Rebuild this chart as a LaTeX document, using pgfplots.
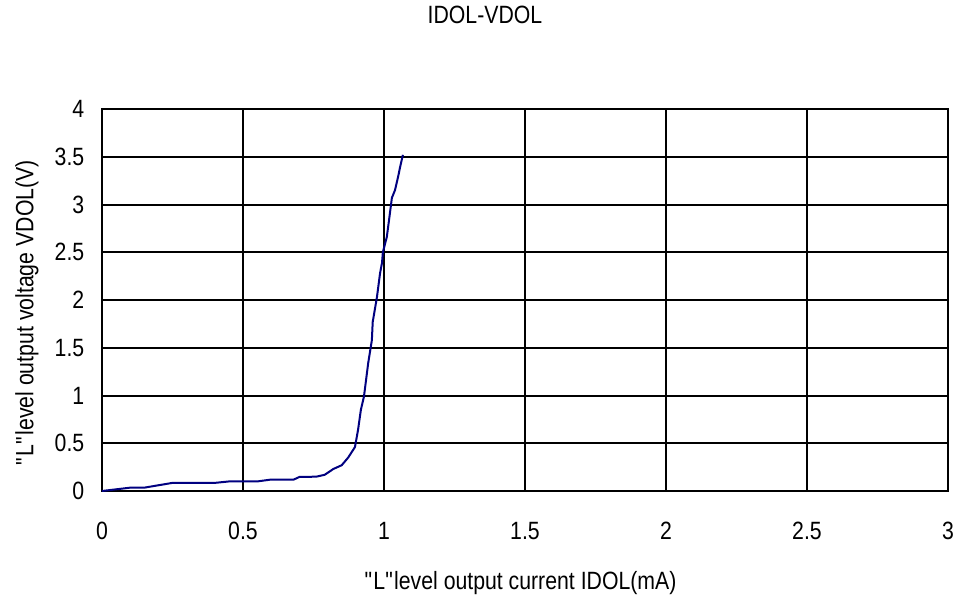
\documentclass[border=0pt]{standalone}
\usepackage{fontspec}
\setmainfont[FakeStretch=0.85]{Liberation Sans}
\usepackage{pgfplots}
\pgfplotsset{compat=1.18}
\definecolor{navyline}{RGB}{0,0,128}
\begin{document}
\fontsize{12.5}{14}\selectfont
\begin{tikzpicture}
\begin{axis}[
  name=ax,
  scale only axis,
  width=423pt, height=191pt,
  xmin=0, xmax=3, ymin=0, ymax=4,
  xtick={0,0.5,1,1.5,2,2.5,3},
  ytick={0,0.5,1,1.5,2,2.5,3,3.5,4},
  xticklabels={0,0.5,1,1.5,2,2.5,3},
  yticklabels={0,0.5,1,1.5,2,2.5,3,3.5,4},
  major tick length=0pt,
  grid=major,
  grid style={black, line width=1pt},
  axis line style={black, line width=1pt},
  /pgf/number format/assume math mode=true,
  xticklabel style={font=\fontsize{12.5}{14}\selectfont, anchor=center, yshift=-20pt},
  yticklabel style={font=\fontsize{12.5}{14}\selectfont, xshift=-4.5pt},
  title={IDOL-VDOL},
  title style={at={(axis description cs:0.4527,1.2147)}, anchor=center, font=\fontsize{12.5}{14}\selectfont},
  xlabel={\textquotedbl L\textquotedbl level output current IDOL(mA)},
  xlabel style={at={(axis description cs:0.4947,-0.2408)}, anchor=center, font=\fontsize{12.5}{14}\selectfont},
  ylabel={\textquotedbl L\textquotedbl level output voltage VDOL(V)},
  ylabel style={at={(axis description cs:-0.0887,0.467)}, anchor=center, font=\fontsize{12.5}{14}\selectfont},
]
\addplot[navyline, line width=1pt] coordinates {
(0,0) (0.1,0.035) (0.15,0.035) (0.25,0.085) (0.40,0.085) (0.45,0.10) (0.55,0.10)
(0.60,0.12) (0.68,0.12) (0.70,0.147) (0.76,0.15) (0.79,0.17) (0.82,0.23)
(0.85,0.27) (0.873,0.35) (0.897,0.46) (0.908,0.64) (0.918,0.85) (0.929,0.99)
(0.944,1.34) (0.957,1.58) (0.96,1.77) (0.975,2.03) (0.986,2.28) (0.993,2.39)
(0.996,2.5) (1.01,2.66) (1.018,2.84) (1.028,3.07) (1.039,3.15) (1.05,3.29)
(1.057,3.39) (1.067,3.52)
};
\end{axis}
\pgfresetboundingbox
\path[use as bounding box] ([shift={(-51pt,-54.5pt)}]ax.south west) rectangle ([shift={(5.5pt,54.5pt)}]ax.north east);
\end{tikzpicture}
\end{document}
